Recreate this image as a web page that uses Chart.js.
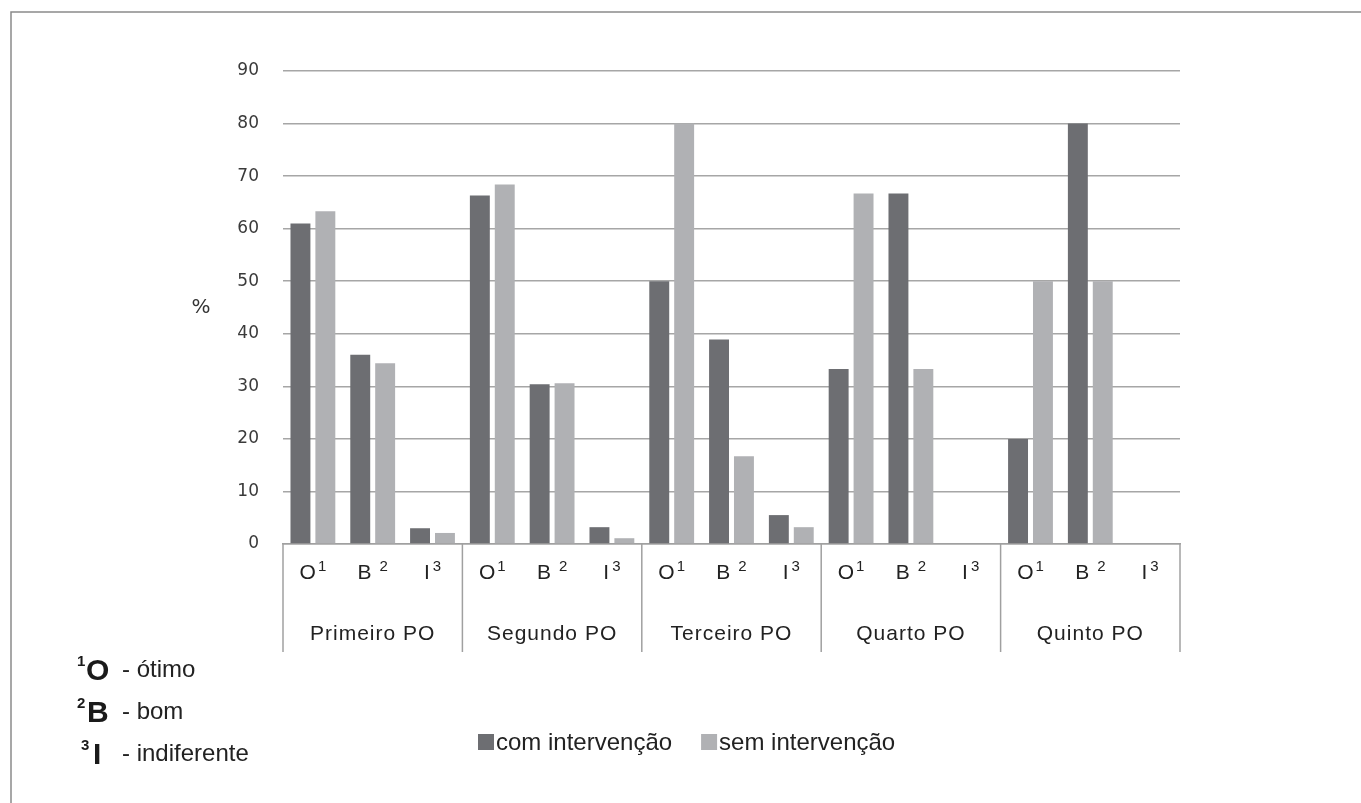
<!DOCTYPE html>
<html>
<head>
<meta charset="utf-8">
<script src="https://cdn.jsdelivr.net/npm/chart.js@4.4.1/dist/chart.umd.min.js"></script>
<style>
  html, body { margin: 0; padding: 0; background: #ffffff; }
  #wrap { width: 1361px; height: 803px; position: relative; }
</style>
</head>
<body>
<div id="wrap"><canvas id="chart"></canvas></div>
<script>
// Post-operative periods
const periods = ['Primeiro PO', 'Segundo PO', 'Terceiro PO', 'Quarto PO', 'Quinto PO'];

// Rating inside each period: letter, footnote mark, and what it stands for
const ratingLetters = ['O', 'B', 'I'];
const ratingMarks = ['1', '2', '3'];
const ratingWords = ['ótimo', 'bom', 'indiferente'];

// Percentages per period, in the order ótimo / bom / indiferente
const comIntervencao = [61, 36, 3,   66.3, 30.4, 3.2,   50, 38.9, 5.5,   33.3, 66.7, 0,   20, 80, 0];
const semIntervencao = [63.3, 34.4, 2.1,   68.4, 30.6, 1.1,   80, 16.7, 3.2,   66.7, 33.3, 0,   50, 50, 0];

// Value axis
const yMin = 0;
const yMax = 90;
const yStep = 10;

const seriesNames = ['com intervenção', 'sem intervenção'];
const seriesColors = ['#6d6e72', '#b0b1b4'];

const labels = periods.flatMap(p => ratingLetters.map(r => p + ' ' + r));

const SANS = '"Liberation Sans", Arial, sans-serif';

const decor = {
  id: 'decor',
  beforeDraw(chart) {
    const c = chart.ctx;
    c.save();
    c.fillStyle = '#ffffff';
    c.fillRect(0, 0, chart.width, chart.height);
    c.restore();
  },
  afterDraw(chart) {
    const c = chart.ctx;
    const area = chart.chartArea;
    const xs = chart.scales.x;
    c.save();

    // outer frame (top and left edges)
    c.strokeStyle = '#8a8a8a';
    c.lineWidth = 1.5;
    c.beginPath();
    c.moveTo(11, chart.height);
    c.lineTo(11, 12);
    c.lineTo(chart.width, 12);
    c.stroke();

    // group separators below the axis
    const sepBottom = area.bottom + 108;
    c.strokeStyle = '#a0a0a0';
    c.lineWidth = 1.5;
    for (let g = 0; g <= periods.length; g++) {
      let x;
      if (g === 0) x = area.left;
      else if (g === periods.length) x = area.right;
      else x = (xs.getPixelForValue(g * 3 - 1) + xs.getPixelForValue(g * 3)) / 2;
      c.beginPath();
      c.moveTo(x, area.bottom);
      c.lineTo(x, sepBottom);
      c.stroke();
    }

    // rating letters with their footnote marks, one per category
    const gaps = [2, 8, 3];
    c.fillStyle = '#222222';
    c.textBaseline = 'alphabetic';
    c.textAlign = 'left';
    labels.forEach((_, i) => {
      const r = i % ratingLetters.length;
      const cx = xs.getPixelForValue(i);
      c.font = '21px ' + SANS;
      const wL = c.measureText(ratingLetters[r]).width;
      c.font = '15px ' + SANS;
      const wS = c.measureText(ratingMarks[r]).width;
      const x0 = cx - (wL + gaps[r] + wS) / 2;
      c.font = '21px ' + SANS;
      c.fillText(ratingLetters[r], x0, area.bottom + 35);
      c.font = '15px ' + SANS;
      c.fillText(ratingMarks[r], x0 + wL + gaps[r], area.bottom + 27);
    });

    // period names
    c.font = '21px ' + SANS;
    c.letterSpacing = '1px';
    c.textAlign = 'center';
    c.textBaseline = 'middle';
    periods.forEach((p, g) => {
      const x = xs.getPixelForValue(g * 3 + 1);
      c.fillText(p, x, area.bottom + 90);
    });
    c.letterSpacing = '0px';

    // axis unit
    c.font = '20px "DejaVu Sans", sans-serif';
    c.fillStyle = '#333333';
    c.fillText('%', 201, 308);

    // footnote key
    const rowsY = [678, 720, 762];
    const markX = [77, 77, 81];
    const letterX = [86, 87, 93];
    ratingLetters.forEach((L, i) => {
      const base = rowsY[i];
      c.textAlign = 'left';
      c.textBaseline = 'alphabetic';
      c.fillStyle = '#1a1a1a';
      c.font = 'bold 15px ' + SANS;
      c.fillText(ratingMarks[i], markX[i], base - 12);
      c.font = 'bold 30px ' + SANS;
      c.fillText(L, letterX[i], base + 2);
      c.font = '24px ' + SANS;
      c.fillStyle = '#222222';
      c.fillText('- ' + ratingWords[i], 122, base - 1);
    });

    // legend
    c.font = '24px ' + SANS;
    c.textBaseline = 'alphabetic';
    let lx = 478;
    chart.data.datasets.forEach((ds) => {
      c.fillStyle = ds.backgroundColor;
      c.fillRect(lx, 734, 16, 16);
      c.fillStyle = '#222222';
      c.fillText(ds.label, lx + 18, 750);
      lx += 18 + c.measureText(ds.label).width + 29;
    });

    c.restore();
  }
};

new Chart(document.getElementById('chart'), {
  type: 'bar',
  data: {
    labels: labels,
    datasets: [
      { label: seriesNames[0], data: comIntervencao, backgroundColor: seriesColors[0],
        categoryPercentage: 0.833, barPercentage: 0.8 },
      { label: seriesNames[1], data: semIntervencao, backgroundColor: seriesColors[1],
        categoryPercentage: 0.833, barPercentage: 0.8 }
    ]
  },
  options: {
    responsive: true,
    maintainAspectRatio: false,
    animation: false,
    layout: { padding: { top: 71, right: 181, bottom: 0, left: 0 } },
    plugins: { legend: { display: false }, tooltip: { enabled: false } },
    scales: {
      x: {
        grid: { display: false, drawTicks: false },
        border: { display: true, color: '#a0a0a0', width: 1.5 },
        ticks: { display: false, autoSkip: false },
        afterFit: s => { s.height = 259; }
      },
      y: {
        min: yMin, max: yMax,
        ticks: {
          stepSize: yStep, padding: 24, color: '#3a3a3a',
          font: { family: '"DejaVu Sans", sans-serif', size: 17 }
        },
        grid: { color: '#a6a6a6', lineWidth: 1.5, drawTicks: false },
        border: { display: false },
        afterFit: s => { s.width = 283; }
      }
    }
  },
  plugins: [decor]
});
</script>
</body>
</html>
